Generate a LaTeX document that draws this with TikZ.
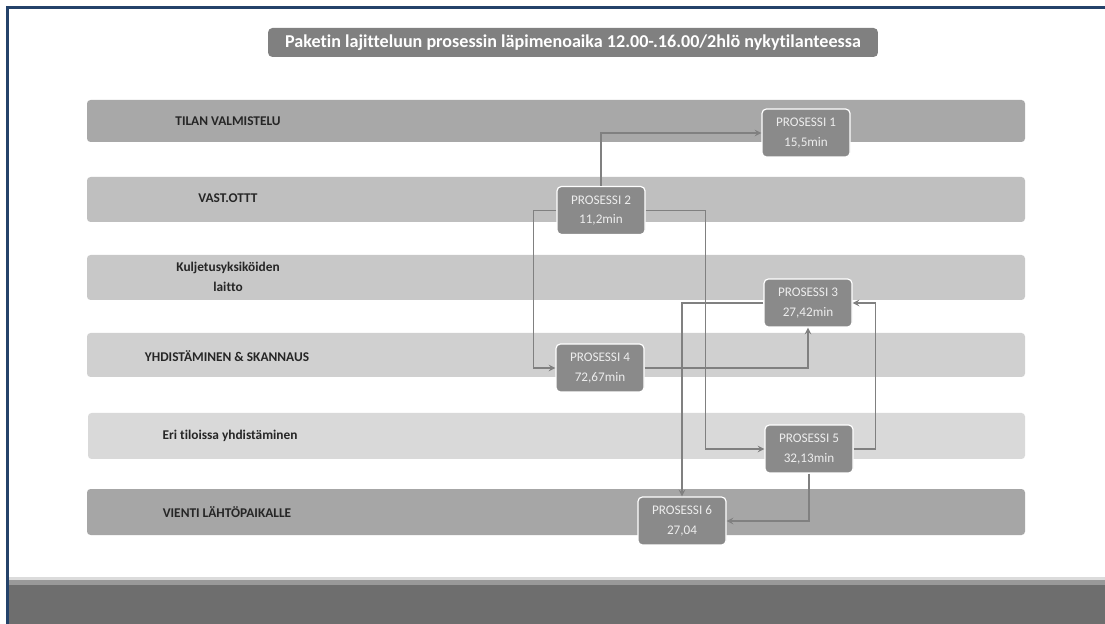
\documentclass[tikz,border=0pt]{standalone}
\usepackage{fontspec}
\setmainfont[Ligatures=NoCommon]{Carlito}
\usetikzlibrary{shapes,arrows}
\usetikzlibrary{calc}

\definecolor{framecol}{HTML}{24426A}
\definecolor{titlegray}{HTML}{808080}
\definecolor{procgray}{HTML}{8A8A8A}
\definecolor{proctext}{HTML}{EDEDED}
\definecolor{linkgray}{HTML}{808080}
\definecolor{darktext}{HTML}{262626}
\definecolor{laneA}{HTML}{A8A8A8}
\definecolor{laneB}{HTML}{BFBFBF}
\definecolor{laneC}{HTML}{C8C8C8}
\definecolor{laneD}{HTML}{D0D0D0}
\definecolor{laneE}{HTML}{D9D9D9}
\definecolor{laneF}{HTML}{A6A6A6}

\begin{document}
\begin{tikzpicture}[x=0.02cm,y=-0.02cm,
    lane/.style={rounded corners=2pt},
    lanelabel/.style={font=\fontsize{7.6}{11.3}\selectfont\bfseries, text=darktext, align=center},
    proc/.style={draw=white, line width=0.7pt, fill=procgray, rounded corners=2.5pt,
      minimum width=1.76cm, minimum height=0.96cm, inner sep=0pt,
      font=\fontsize{7.5}{11.3}\selectfont, text=proctext, align=center},
    link/.style={draw=linkgray, line width=0.7pt, ->, >=stealth}]
  \useasboundingbox (0,0) rectangle (1105,624);
  \fill[white] (0,0) rectangle (1105,624);
  % frame and bottom bar
  \draw[framecol, line width=1.4pt] (7.5,624) -- (7.5,7.5) -- (1105,7.5);
  \fill[black!14] (9,577) rectangle (1105,580);
  \fill[black!40] (9,580) rectangle (1105,585);
  \fill[black!57] (9,585) rectangle (1105,624);
  % title
  \node[fill=titlegray, rounded corners=2.5pt, minimum width=12.2cm, minimum height=0.58cm,
    inner sep=0pt, text=white, font=\fontsize{10.3}{12}\selectfont\bfseries] (title) at (573,42.5)
    {Paketin lajitteluun prosessin läpimenoaika 12.00-.16.00/2hlö nykytilanteessa};
  % lanes
  \fill[lane, laneA] (87,100) rectangle (1025,142);
  \fill[lane, laneB] (87,177) rectangle (1025,222);
  \fill[lane, laneC] (87,255) rectangle (1025,300);
  \fill[lane, laneD] (87,333) rectangle (1025,377);
  \fill[lane, laneE] (88,413) rectangle (1025,459);
  \fill[lane, laneF] (87,489) rectangle (1025,535);
  \node[lanelabel] (tilan) at (228,121) {TILAN VALMISTELU};
  \node[lanelabel] (vast) at (228,198) {VAST.OTTT};
  \node[lanelabel] (kulj) at (228,277) {Kuljetusyksiköiden\\laitto};
  \node[lanelabel] (yhd) at (227,356) {YHDISTÄMINEN \& SKANNAUS};
  \node[lanelabel] (eri) at (230,436) {Eri tiloissa yhdistäminen};
  \node[lanelabel] (vienti) at (227,512) {VIENTI LÄHTÖPAIKALLE};
  % processes
  \node[proc] (p1) at (806,133) {PROSESSI 1\\15,5min};
  \node[proc] (p2) at (601,210.5) {PROSESSI 2\\11,2min};
  \node[proc] (p3) at (808,303) {PROSESSI 3\\27,42min};
  \node[proc] (p4) at (600,368) {PROSESSI 4\\72,67min};
  \node[proc] (p5) at (809,449) {PROSESSI 5\\32,13min};
  \node[proc] (p6) at (682,521) {PROSESSI 6\\27,04};
  % connectors
  \draw[link] (p2.north) |- (p1.west);
  \draw[link] (p2.west) -- ++(-23,0) |- (p4.west);
  \draw[link] (p2.east) -- ++(60,0) |- (p5.west);
  \draw[link] (p4.east) -| (p3.south);
  \draw[link] (p5.east) -- ++(22,0) |- (p3.east);
  \draw[link] (p3.west) -| (p6.north);
  \draw[link] (p5.south) |- (p6.east);
\end{tikzpicture}
\end{document}
